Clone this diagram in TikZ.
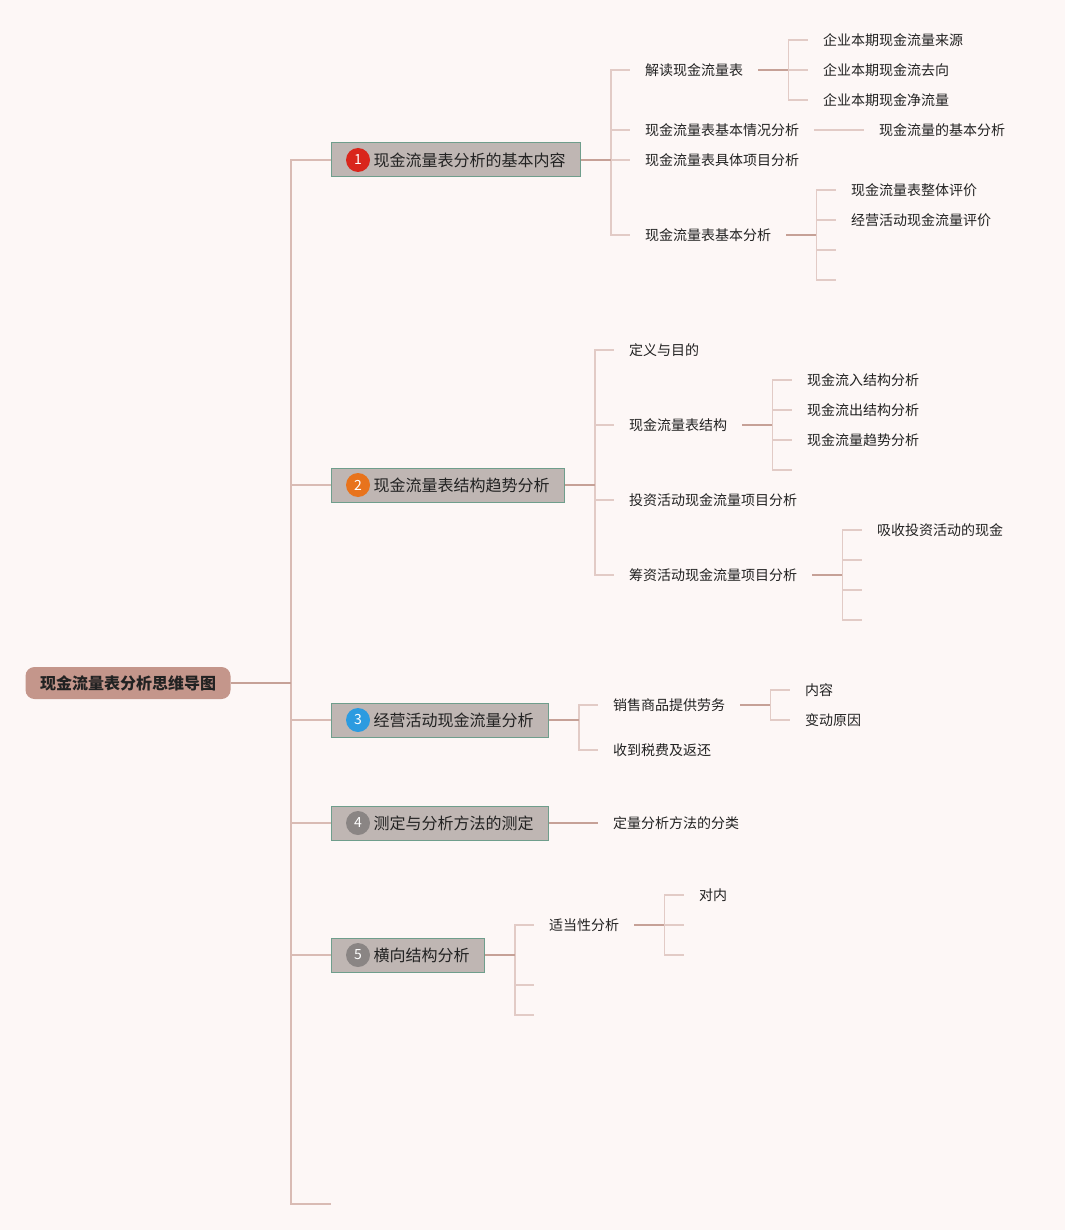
\documentclass[tikz,border=0pt]{standalone}
\usepackage{fontspec}
\setmainfont{Noto Sans CJK SC}
\definecolor{bgc}{HTML}{FDF7F6}
\definecolor{rootc}{HTML}{C4968B}
\definecolor{topicfill}{HTML}{BFB6B3}
\definecolor{topicline}{HTML}{6F9E8C}
\definecolor{stemc}{HTML}{C6A197}
\definecolor{twigc}{HTML}{E2CBC6}
\definecolor{trunkc}{HTML}{D9BBB4}
\definecolor{textc}{HTML}{222222}
\definecolor{badgered}{HTML}{D9261C}
\definecolor{badgeorange}{HTML}{E8731C}
\definecolor{badgeblue}{HTML}{2C9BE0}
\definecolor{badgegray}{HTML}{8A8584}
\tikzset{
  leaf/.style={anchor=west, inner xsep=15pt, inner ysep=2pt, text=textc,
    font=\fontsize{14}{16}\selectfont},
  topic/.style={anchor=west, draw=topicline, line width=1pt, fill=topicfill,
    minimum height=34pt, inner xsep=15pt, text=textc, font=\fontsize{16}{18}\selectfont},
  badge/.style={circle, minimum size=24pt, inner sep=0pt, text=white,
    font=\fontsize{14}{14}\selectfont},
  stem/.style={draw=stemc, line width=1.3pt},
  twig/.style={draw=twigc, line width=1.2pt},
}
\begin{document}
\begin{tikzpicture}[x=1pt,y=-1pt]
  \useasboundingbox (0,0) rectangle (1065,1230);
  \fill[bgc] (0,0) rectangle (1065,1230);
  % root and main topics
  \node[fill=rootc, rounded corners=9pt, minimum width=205pt, minimum height=32pt,
    text=textc, font=\bfseries\fontsize{16}{18}\selectfont] (root) at (128,683) {现金流量表分析思维导图};
  \node[topic] (m1) at (331,160) {\hspace*{27pt}现金流量表分析的基本内容};
  \node[topic] (m2) at (331,485) {\hspace*{27pt}现金流量表结构趋势分析};
  \node[topic] (m3) at (331,720) {\hspace*{27pt}经营活动现金流量分析};
  \node[topic] (m4) at (331,823) {\hspace*{27pt}测定与分析方法的测定};
  \node[topic] (m5) at (331,955) {\hspace*{27pt}横向结构分析};
  \coordinate (m6) at (331,1204);
  \foreach \m/\n/\c in {m1/1/badgered, m2/2/badgeorange, m3/3/badgeblue, m4/4/badgegray, m5/5/badgegray}
    \node[badge, fill=\c] (b\n) at ([xshift=27pt]\m.west) {\n};
  % branch 1
  \node[leaf] (a1) at (630,70) {解读现金流量表};
  \node[leaf] (a2) at (630,130) {现金流量表基本情况分析};
  \node[leaf] (a3) at (630,160) {现金流量表具体项目分析};
  \node[leaf] (a4) at (630,235) {现金流量表基本分析};
  \node[leaf] (a11) at (808,40) {企业本期现金流量来源};
  \node[leaf] (a12) at (808,70) {企业本期现金流去向};
  \node[leaf] (a13) at (808,100) {企业本期现金净流量};
  \node[leaf] (a21) at (864,130) {现金流量的基本分析};
  \node[leaf] (a41) at (836,190) {现金流量表整体评价};
  \node[leaf] (a42) at (836,220) {经营活动现金流量评价};
  \coordinate (a43) at (836,250);
  \coordinate (a44) at (836,280);
  % branch 2
  \node[leaf] (c1) at (614,350) {定义与目的};
  \node[leaf] (c2) at (614,425) {现金流量表结构};
  \node[leaf] (c3) at (614,500) {投资活动现金流量项目分析};
  \node[leaf] (c4) at (614,575) {筹资活动现金流量项目分析};
  \node[leaf] (c21) at (792,380) {现金流入结构分析};
  \node[leaf] (c22) at (792,410) {现金流出结构分析};
  \node[leaf] (c23) at (792,440) {现金流量趋势分析};
  \coordinate (c24) at (792,470);
  \node[leaf] (c41) at (862,530) {吸收投资活动的现金};
  \coordinate (c42) at (862,560);
  \coordinate (c43) at (862,590);
  \coordinate (c44) at (862,620);
  % branch 3
  \node[leaf] (d1) at (598,705) {销售商品提供劳务};
  \node[leaf] (d2) at (598,750) {收到税费及返还};
  \node[leaf] (d11) at (790,690) {内容};
  \node[leaf] (d12) at (790,720) {变动原因};
  % branch 4
  \node[leaf] (f1) at (598,823) {定量分析方法的分类};
  % branch 5
  \node[leaf] (g1) at (534,925) {适当性分析};
  \coordinate (g2) at (534,985);
  \coordinate (g3) at (534,1015);
  \node[leaf] (g11) at (684,895) {对内};
  \coordinate (g12) at (684,925);
  \coordinate (g13) at (684,955);
  % connectors
  \foreach \m in {m1,m2,m3,m4,m5,m6}
    \draw[draw=trunkc, line width=1.3pt] (291,683) |- (\m.west);
  \draw[stem] (root.east) -- (291,683);
  \foreach \p/\k in {m1/{a1,a2,a3,a4}, a1/{a11,a12,a13}, a4/{a41,a42,a43,a44},
      m2/{c1,c2,c3,c4}, c2/{c21,c22,c23,c24}, c4/{c41,c42,c43,c44},
      m3/{d1,d2}, d1/{d11,d12}, m5/{g1,g2,g3}, g1/{g11,g12,g13}} {
    \path (\p.east) ++(30,0) coordinate (j);
    \foreach \c in \k
      \draw[twig] (j) |- (\c.west);
    \draw[stem] (\p.east) -- (j);
  }
  \draw[twig] (a2.east) -- (a21.west);
  \draw[stem] (m4.east) -- (f1.west);
\end{tikzpicture}
\end{document}
